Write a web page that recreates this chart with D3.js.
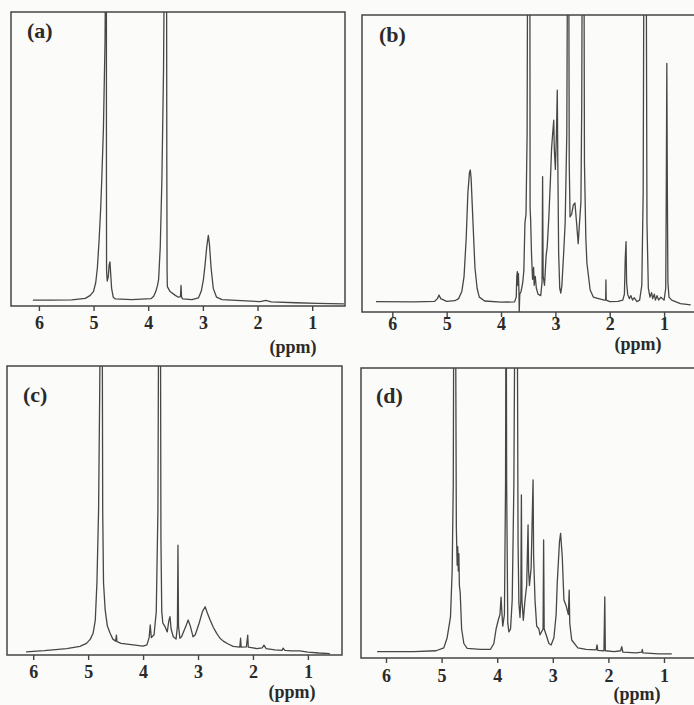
<!DOCTYPE html>
<html>
<head>
<meta charset="utf-8">
<script src="https://cdn.jsdelivr.net/npm/d3@7"></script>
<style>
  body { margin: 0; background: #fbfbf9; }
  svg { display: block; }
</style>
</head>
<body>
<svg id="fig" width="694" height="705"></svg>
<script>
// tick values on the chemical shift axis (ppm)
var tickValues = [6, 5, 4, 3, 2, 1];
var panelNames = ["(a)", "(b)", "(c)", "(d)"];
var axisTitle = "(ppm)";

// spectra: [ppm, intensity] where intensity 1 = top of the frame
var specA = [[6.11,0.020],[5.8,0.020],[5.4,0.021],[5.15,0.026],[5.06,0.036],[5.0,0.05],[4.96,0.08],[4.93,0.13],[4.9,0.22],[4.87,0.33],[4.85,0.43],[4.82,0.6],[4.79,0.9],[4.775,1.3],[4.77,1.5],[4.765,1.3],[4.764,0.4],[4.762,0.12],[4.75,0.085],[4.73,0.1],[4.715,0.14],[4.70,0.15],[4.69,0.12],[4.67,0.06],[4.64,0.03],[4.6,0.024],[4.3,0.022],[3.95,0.025],[3.9,0.033],[3.86,0.05],[3.83,0.07],[3.81,0.09],[3.78,0.2],[3.75,0.43],[3.72,0.8],[3.70,1.3],[3.68,1.5],[3.665,1.3],[3.66,0.5],[3.655,0.12],[3.65,0.066],[3.6,0.049],[3.51,0.037],[3.45,0.03],[3.41,0.032],[3.40,0.07],[3.39,0.03],[3.37,0.024],[3.2,0.022],[3.08,0.028],[3.03,0.05],[2.99,0.09],[2.96,0.14],[2.93,0.2],[2.90,0.24],[2.88,0.21],[2.85,0.13],[2.81,0.06],[2.75,0.03],[2.65,0.022],[2.3,0.018],[1.95,0.015],[1.85,0.019],[1.75,0.014],[1.3,0.011],[0.9,0.009],[0.42,0.007]];

var specB = [[6.30,0.035],[5.6,0.034],[5.22,0.036],[5.17,0.045],[5.14,0.057],[5.11,0.045],[5.0,0.036],[4.85,0.038],[4.78,0.045],[4.72,0.07],[4.68,0.12],[4.64,0.25],[4.61,0.40],[4.58,0.47],[4.565,0.478],[4.55,0.45],[4.52,0.32],[4.48,0.15],[4.44,0.08],[4.40,0.05],[4.3,0.037],[4.0,0.033],[3.75,0.034],[3.72,0.05],[3.71,0.12],[3.70,0.136],[3.69,0.09],[3.68,0.13],[3.67,0.07],[3.665,0.0],[3.655,0.06],[3.63,0.07],[3.6,0.1],[3.58,0.14],[3.56,0.30],[3.54,0.33],[3.52,0.6],[3.51,1.3],[3.49,1.5],[3.47,1.3],[3.465,0.35],[3.455,0.31],[3.44,0.2],[3.42,0.11],[3.40,0.15],[3.39,0.09],[3.37,0.12],[3.35,0.08],[3.32,0.06],[3.27,0.055],[3.245,0.1],[3.235,0.456],[3.225,0.12],[3.2,0.09],[3.17,0.19],[3.15,0.22],[3.12,0.32],[3.09,0.45],[3.07,0.55],[3.05,0.6],[3.03,0.646],[3.02,0.55],[3.0,0.48],[2.98,0.6],[2.965,0.747],[2.955,0.5],[2.94,0.2],[2.92,0.08],[2.90,0.064],[2.88,0.09],[2.85,0.19],[2.82,0.3],[2.79,0.6],[2.775,1.3],[2.765,1.5],[2.755,1.3],[2.745,0.5],[2.73,0.32],[2.70,0.33],[2.67,0.36],[2.64,0.367],[2.61,0.3],[2.58,0.23],[2.56,0.29],[2.53,0.37],[2.515,0.7],[2.505,1.3],[2.49,1.5],[2.475,1.3],[2.465,0.5],[2.44,0.25],[2.42,0.165],[2.36,0.074],[2.3,0.05],[2.24,0.047],[2.1,0.04],[2.075,0.04],[2.07,0.108],[2.065,0.04],[2.0,0.035],[1.85,0.036],[1.76,0.04],[1.73,0.06],[1.715,0.18],[1.70,0.237],[1.69,0.1],[1.67,0.06],[1.64,0.045],[1.61,0.055],[1.58,0.04],[1.55,0.048],[1.5,0.035],[1.45,0.04],[1.41,0.09],[1.385,0.4],[1.37,1.3],[1.35,1.5],[1.33,1.3],[1.315,0.3],[1.29,0.08],[1.26,0.05],[1.23,0.065],[1.21,0.045],[1.18,0.06],[1.16,0.04],[1.13,0.055],[1.10,0.04],[1.06,0.05],[1.0,0.04],[0.97,0.08],[0.96,0.4],[0.95,0.837],[0.94,0.4],[0.93,0.1],[0.91,0.05],[0.86,0.04],[0.7,0.028],[0.51,0.024]];

var specC = [[6.13,0.011],[5.8,0.015],[5.39,0.022],[5.15,0.03],[5.03,0.04],[4.96,0.055],[4.91,0.075],[4.87,0.12],[4.84,0.25],[4.81,0.5],[4.79,0.9],[4.775,1.3],[4.76,1.5],[4.745,1.3],[4.735,0.5],[4.72,0.25],[4.69,0.156],[4.65,0.1],[4.60,0.075],[4.55,0.055],[4.50,0.048],[4.485,0.069],[4.475,0.046],[4.4,0.04],[4.18,0.035],[4.0,0.031],[3.93,0.035],[3.89,0.06],[3.87,0.104],[3.85,0.06],[3.8,0.07],[3.76,0.15],[3.73,0.5],[3.715,1.3],[3.70,1.5],[3.685,1.3],[3.675,0.4],[3.66,0.15],[3.64,0.11],[3.60,0.098],[3.56,0.08],[3.53,0.12],[3.51,0.133],[3.49,0.09],[3.45,0.063],[3.40,0.055],[3.375,0.1],[3.365,0.38],[3.355,0.1],[3.33,0.058],[3.30,0.063],[3.22,0.1],[3.18,0.121],[3.14,0.1],[3.09,0.063],[3.05,0.07],[2.98,0.11],[2.92,0.15],[2.87,0.167],[2.83,0.145],[2.78,0.121],[2.72,0.095],[2.66,0.075],[2.6,0.058],[2.54,0.048],[2.45,0.038],[2.36,0.03],[2.24,0.027],[2.225,0.058],[2.215,0.027],[2.12,0.028],[2.095,0.069],[2.085,0.027],[2.0,0.025],[1.93,0.022],[1.83,0.025],[1.80,0.034],[1.76,0.022],[1.6,0.018],[1.47,0.016],[1.45,0.024],[1.42,0.016],[1.3,0.014],[1.15,0.014],[1.0,0.01],[0.8,0.007],[0.60,0.005]];

var specD = [[6.16,0.022],[5.5,0.022],[5.1,0.025],[4.96,0.035],[4.90,0.07],[4.84,0.142],[4.81,0.3],[4.79,0.6],[4.78,1.3],[4.765,1.5],[4.75,1.3],[4.735,0.45],[4.72,0.32],[4.71,0.384],[4.70,0.3],[4.69,0.36],[4.68,0.25],[4.665,0.224],[4.64,0.1],[4.6,0.05],[4.54,0.033],[4.3,0.03],[4.12,0.03],[4.06,0.05],[4.02,0.1],[3.98,0.131],[3.95,0.15],[3.93,0.21],[3.92,0.17],[3.90,0.11],[3.87,0.15],[3.85,0.6],[3.84,1.5],[3.83,0.6],[3.81,0.12],[3.79,0.09],[3.76,0.1],[3.73,0.2],[3.70,0.6],[3.68,1.3],[3.66,1.5],[3.64,1.3],[3.625,0.4],[3.61,0.19],[3.59,0.14],[3.575,0.2],[3.565,0.562],[3.555,0.2],[3.53,0.13],[3.50,0.2],[3.47,0.25],[3.445,0.459],[3.435,0.3],[3.42,0.25],[3.39,0.31],[3.355,0.614],[3.345,0.35],[3.32,0.2],[3.29,0.11],[3.25,0.1],[3.23,0.08],[3.175,0.1],[3.165,0.407],[3.155,0.1],[3.12,0.08],[3.07,0.05],[3.03,0.045],[2.98,0.07],[2.94,0.15],[2.92,0.259],[2.88,0.4],[2.86,0.43],[2.83,0.35],[2.80,0.2],[2.76,0.18],[2.72,0.15],[2.705,0.234],[2.695,0.12],[2.66,0.062],[2.55,0.035],[2.4,0.03],[2.22,0.028],[2.205,0.045],[2.19,0.026],[2.08,0.025],[2.065,0.211],[2.055,0.025],[1.9,0.022],[1.78,0.025],[1.76,0.039],[1.74,0.02],[1.5,0.018],[1.40,0.02],[1.39,0.03],[1.38,0.018],[1.1,0.014],[0.86,0.014]];

var spectra = [specA, specB, specC, specD];

// layout of the four frames (pixels), plus where ppm 6 and ppm 1 sit
var panels = [
    {left: 11, right: 345, top: 12, bottom: 306, x6: 38.9, x1: 312.2, lab: [27, 38], tickY: 329, ppm: [293, 353]},
    {left: 362, right: 698, top: 15, bottom: 312, x6: 392.3, x1: 664.1, lab: [379, 42], tickY: 330, ppm: [638, 350]},
    {left: 7, right: 342, top: 366, bottom: 655, x6: 33.2, x1: 307.9, lab: [23, 402], tickY: 678, ppm: [292, 698]},
    {left: 361, right: 698, top: 368, bottom: 658, x6: 386, x1: 664, lab: [376, 403], tickY: 682, ppm: [637, 700]}
];

var inkLine = "#454545", inkText = "#2a2a2a";
var serif = "'Liberation Serif', 'Times New Roman', serif";

var svg = d3.select("#fig");
var defs = svg.append("defs");

panels.forEach(function(p, i) {

    //scales
    var x = d3.scaleLinear().domain([6, 1]).range([p.x6, p.x1]);
    var y = d3.scaleLinear().domain([0, 1]).range([p.bottom, p.top]);

    defs.append("clipPath")
        .attr("id", "clip" + i)
        .append("rect")
            .attr("x", p.left)
            .attr("y", p.top)
            .attr("width", p.right - p.left)
            .attr("height", p.bottom - p.top);

    var g = svg.append("g").attr("class", "panel");

    //spectrum line
    var line = d3.line()
        .x(d => x(d[0]))
        .y(d => y(d[1]));

    g.append("path")
        .datum(spectra[i])
        .attr("clip-path", "url(#clip" + i + ")")
        .attr("d", line)
        .attr("fill", "none")
        .attr("stroke", "#474747")
        .attr("stroke-width", 1.3)
        .attr("stroke-linejoin", "round");

    //frame
    g.append("rect")
        .attr("x", p.left)
        .attr("y", p.top)
        .attr("width", p.right - p.left)
        .attr("height", p.bottom - p.top)
        .attr("fill", "none")
        .attr("stroke", inkLine)
        .attr("stroke-width", 1.5);

    //bottom axis
    var axis = d3.axisBottom(x)
        .tickValues(tickValues)
        .tickSize(5)
        .tickPadding(6)
        .tickFormat(d3.format("d"));

    var ax = g.append("g")
        .attr("transform", "translate(0," + p.bottom + ")")
        .call(axis);

    ax.select(".domain").remove();
    ax.selectAll(".tick line")
        .attr("stroke", inkLine)
        .attr("stroke-width", 1.4);
    ax.selectAll(".tick text")
        .attr("y", p.tickY - p.bottom)
        .attr("dy", null)
        .style("font-family", serif)
        .style("font-weight", "bold")
        .style("font-size", "18px")
        .style("fill", inkText);

    //axis title
    g.append("text")
        .attr("x", p.ppm[0])
        .attr("y", p.ppm[1])
        .attr("text-anchor", "middle")
        .text(axisTitle)
            .style("font-family", serif)
            .style("font-weight", "bold")
            .style("font-size", "18px")
            .style("fill", inkText);

    //panel letter
    g.append("text")
        .attr("x", p.lab[0])
        .attr("y", p.lab[1])
        .text(panelNames[i])
            .style("font-family", serif)
            .style("font-weight", "bold")
            .style("font-size", "22px")
            .style("fill", inkText);
});
</script>
</body>
</html>
